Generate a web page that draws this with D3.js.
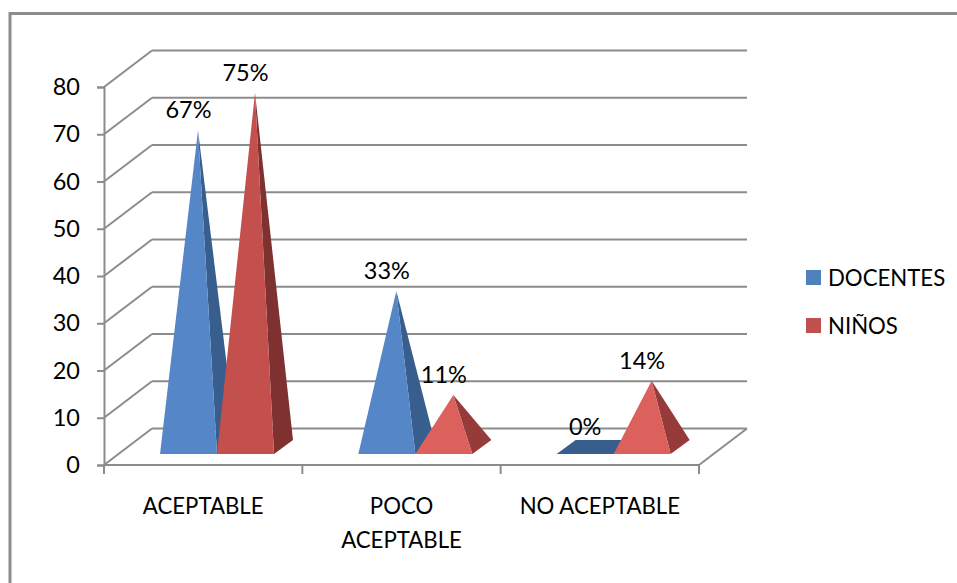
<!DOCTYPE html>
<html>
<head>
<meta charset="utf-8">
<script src="https://cdn.jsdelivr.net/npm/d3@7"></script>
<style>
  html, body { margin: 0; padding: 0; background: #fff; }
  svg { display: block; }
  text { font-family: Lato, Carlito, "Open Sans", sans-serif; fill: #000; }
</style>
</head>
<body>
<svg id="chart" width="957" height="583"></svg>
<script>
// Chart values
const categories = ["ACEPTABLE", "POCO ACEPTABLE", "NO ACEPTABLE"];
const seriesNames = ["DOCENTES", "NIÑOS"];
const docentes = [67, 33, 0];
const ninos = [75, 11, 14];
const yTicks = [0, 10, 20, 30, 40, 50, 60, 70, 80];

// Wrapped axis labels, one entry per category
const categoryLines = [["ACEPTABLE"], ["POCO", "ACEPTABLE"], ["NO ACEPTABLE"]];

const GRID = "#8c8c8c";
const FONT = 22.2;
const NUMBER_FONT = 23.5;

const svg = d3.select("#chart");

// Front plane of the 3D box
const y = d3.scaleLinear().domain([0, 80]).range([465, 87]);
const x0 = d3.scaleBand().domain(categories).range([104, 699]);
const depth = { dx: 48, dy: -36.5 };

// Columns inside a category, and how far they sit from the front plane
const columnWidth = 57;
const x1 = d3.scaleBand().domain(seriesNames)
  .range([0, columnWidth * 2]);
const groupLeft = 56;
const baseFrontGap = 11;
const baseDepth = { dx: 19, dy: -14 };

// Outer chart frame: only the top and left edges fall inside the window
svg.append("rect")
  .attr("x", 10).attr("y", 13.5)
  .attr("width", 1000).attr("height", 700)
  .attr("fill", "#fff")
  .attr("stroke", "#8c8c8c").attr("stroke-width", 3);

// Back wall gridlines and side wall diagonals
const grid = svg.append("g").attr("fill", "none")
  .attr("stroke", GRID).attr("stroke-width", 2);

grid.selectAll("line.back").data(yTicks).join("line")
  .attr("class", "back")
  .attr("x1", 104 + depth.dx).attr("x2", 699 + depth.dx)
  .attr("y1", d => y(d) + depth.dy).attr("y2", d => y(d) + depth.dy);

grid.selectAll("line.side").data(yTicks).join("line")
  .attr("class", "side")
  .attr("x1", 104).attr("x2", 104 + depth.dx)
  .attr("y1", d => y(d)).attr("y2", d => y(d) + depth.dy);

// Floor: front edge and right edge
grid.append("line")
  .attr("x1", 104).attr("x2", 699).attr("y1", y(0)).attr("y2", y(0));
grid.append("line")
  .attr("x1", 699).attr("x2", 699 + depth.dx)
  .attr("y1", y(0)).attr("y2", y(0) + depth.dy);

// Value axis
const yAxis = svg.append("g")
  .attr("transform", "translate(104,0)")
  .call(d3.axisLeft(y).tickValues(yTicks).tickSize(7).tickPadding(17));
yAxis.select(".domain").attr("stroke", GRID).attr("stroke-width", 2);
yAxis.selectAll(".tick line").attr("stroke", GRID).attr("stroke-width", 2);
yAxis.selectAll(".tick text")
  .style("font-family", "Lato, Carlito, sans-serif")
  .style("font-size", NUMBER_FONT + "px").attr("fill", "#000");

// Category ticks below the floor
const catTicks = x0.domain().map(d => x0(d)).concat([699]);
grid.selectAll("line.cat").data(catTicks).join("line")
  .attr("class", "cat")
  .attr("x1", d => d).attr("x2", d => d)
  .attr("y1", y(0)).attr("y2", y(0) + 9);

// Category labels
svg.append("g").selectAll("text").data(categories).join("text")
  .attr("text-anchor", "middle")
  .attr("font-size", FONT)
  .attr("transform", d => `translate(${x0(d) + x0.bandwidth() / 2},514)`)
  .each(function (d, i) {
    d3.select(this).selectAll("tspan").data(categoryLines[i]).join("tspan")
      .attr("x", 0)
      .attr("y", (_, j) => j * 34)
      .text(t => t);
  });

// Face colours of the pyramids; short red pyramids catch more light
const faces = {
  DOCENTES: () => ({ front: "#5586c7", side: "#375e8c" }),
  "NIÑOS": v => v < 20
    ? { front: "#dc605c", side: "#963b3a" }
    : { front: "#c4504e", side: "#7f3130" }
};

const points = categories.flatMap((c, i) => [
  { category: c, series: seriesNames[0], value: docentes[i] },
  { category: c, series: seriesNames[1], value: ninos[i] }
]);

const unit = y(0) - y(1);
const baseY = y(0) - baseFrontGap;
const line = d3.line();

const pyramids = svg.append("g").selectAll("g").data(points).join("g")
  .each(function (d) {
    const g = d3.select(this);
    const left = x0(d.category) + groupLeft + x1(d.series);
    const right = left + x1.bandwidth();
    const colors = faces[d.series](d.value);
    const backRight = [right + baseDepth.dx, baseY + baseDepth.dy];
    const apex = [
      (left + right + baseDepth.dx) / 2,
      baseY + baseDepth.dy / 2 - d.value * unit
    ];
    if (d.value === 0) {
      // A zero value collapses to its base
      g.append("path")
        .attr("d", line([[left, baseY], [right, baseY], backRight,
          [left + baseDepth.dx, baseY + baseDepth.dy]]) + "Z")
        .attr("fill", colors.side);
      return;
    }
    g.append("path")
      .attr("d", line([[right, baseY], backRight, apex]) + "Z")
      .attr("fill", colors.side);
    g.append("path")
      .attr("d", line([[left, baseY], [right, baseY], apex]) + "Z")
      .attr("fill", colors.front);
  });

// Percentage labels above each apex
svg.append("g").selectAll("text").data(points).join("text")
  .attr("text-anchor", "middle")
  .attr("font-size", NUMBER_FONT)
  .attr("x", d => x0(d.category) + groupLeft + x1(d.series) + columnWidth / 2)
  .attr("y", d => baseY + baseDepth.dy / 2 - d.value * unit - 12)
  .text(d => d.value + "%");

// Legend
const legendColors = d3.scaleOrdinal().domain(seriesNames).range(["#4f81bd", "#c0504d"]);
const legend = svg.append("g").selectAll("g").data(seriesNames).join("g")
  .attr("transform", (_, i) => `translate(806,${270 + i * 48})`);
legend.append("rect")
  .attr("width", 15).attr("height", 15)
  .attr("fill", d => legendColors(d));
legend.append("text")
  .attr("x", 22).attr("y", 16)
  .attr("font-size", FONT)
  .text(d => d);
</script>
</body>
</html>
